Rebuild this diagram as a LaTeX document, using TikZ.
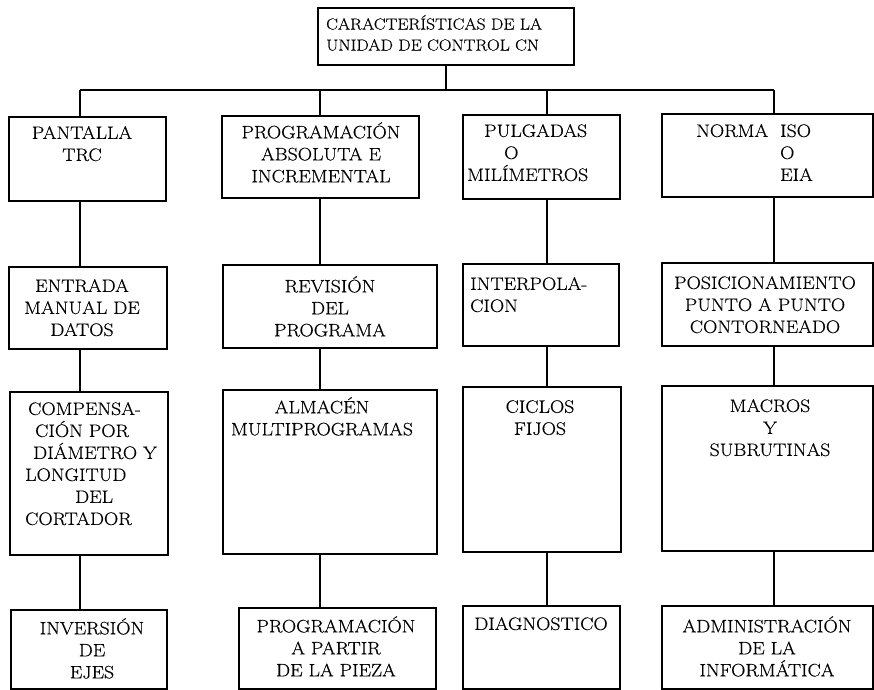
\documentclass[tikz,border=0pt]{standalone}
\usepackage{fontspec}
\setmainfont{Latin Modern Roman}[FakeStretch=1.1,FakeBold=0.4]
\usepackage{tikz}

\begin{document}
\begin{tikzpicture}[x=1pt,y=-1pt,
  caja/.style={draw,line width=1.5pt,anchor=north west,inner sep=0pt},
  texto/.style={anchor=north,align=center,inner sep=0pt,font=\fontsize{18}{22}\selectfont},
  enlace/.style={line width=1.5pt}]
  \useasboundingbox (0,0) rectangle (874,689);
  % ejes de las columnas y barra horizontal
  \coordinate (k1) at (80,0);
  \coordinate (k2) at (320,0);
  \coordinate (k3) at (547,0);
  \coordinate (k4) at (774,0);
  \coordinate (bus) at (0,90);

  % cajas
  \node[caja,minimum width=256pt,minimum height=57pt] (cnc) at (317,7) {};
  \node[caja,minimum width=157pt,minimum height=84pt] (pantalla) at (8,116) {};
  \node[caja,minimum width=197pt,minimum height=82pt] (absoluta) at (221,115) {};
  \node[caja,minimum width=157pt,minimum height=84pt] (pulgadas) at (462,114) {};
  \node[caja,minimum width=211pt,minimum height=83pt] (norma) at (661,113) {};
  \node[caja,minimum width=158pt,minimum height=82pt] (entrada) at (8,266) {};
  \node[caja,minimum width=214pt,minimum height=83pt] (revision) at (222,264) {};
  \node[caja,minimum width=156pt,minimum height=82pt] (interpola) at (462,263) {};
  \node[caja,minimum width=211pt,minimum height=83pt] (posicion) at (661,262) {};
  \node[caja,minimum width=158pt,minimum height=163pt] (compensa) at (9,391) {};
  \node[caja,minimum width=214pt,minimum height=164pt] (almacen) at (222,389) {};
  \node[caja,minimum width=158pt,minimum height=165pt] (ciclos) at (462,386) {};
  \node[caja,minimum width=211pt,minimum height=165pt] (macros) at (661,385) {};
  \node[caja,minimum width=156pt,minimum height=79pt] (inversion) at (10,609) {};
  \node[caja,minimum width=197pt,minimum height=81pt] (partir) at (238,607) {};
  \node[caja,minimum width=157pt,minimum height=83pt] (diagnostico) at (462,605) {};
  \node[caja,minimum width=211pt,minimum height=83pt] (admin) at (661,605) {};

  % textos
  \node[texto,anchor=north west,align=left,font=\fontsize{16}{21}\selectfont] (t-cnc) at (326,15) {CARACTERÍSTICAS DE LA\\UNIDAD DE CONTROL CN};
  \node[texto] (t-pantalla) at (82,126) {PANTALLA\\TRC};
  \node[texto] (t-absoluta) at (321,122) {PROGRAMACIÓN\\ABSOLUTA E\\INCREMENTAL};
  \node[texto,anchor=north west,align=left] (t-pulgadas) at (467,124) {\hspace*{17pt}PULGADAS\\\hspace*{37pt}O\\MILÍMETROS};
  \node[texto,anchor=north west,align=left] (t-norma) at (696,124) {NORMA\ \ ISO\\\phantom{NORMA\ \ }O\\\phantom{NORMA\ \ }EIA};
  \node[texto] (t-entrada) at (82,279) {ENTRADA\\MANUAL DE\\DATOS};
  \node[texto] (t-revision) at (330,276) {REVISIÓN\\DEL\\PROGRAMA};
  \node[texto,anchor=north west,align=left] (t-interpola) at (470,277) {INTERPOLA-\\CION};
  \node[texto] (t-posicion) at (765,276) {POSICIONAMIENTO\\PUNTO A PUNTO\\CONTORNEADO};
  \node[texto,anchor=north west,align=left] (t-compensa) at (25,402) {\hspace*{3pt}COMPENSA-\\\hspace*{10pt}CIÓN POR\\\hspace*{8pt}DIÁMETRO Y\\LONGITUD\\\hspace*{50pt}DEL\\CORTADOR};
  \node[texto] (t-almacen) at (322,397) {ALMACÉN\\MULTIPROGRAMAS};
  \node[texto] (t-ciclos) at (540,400) {CICLOS\\FIJOS};
  \node[texto] (t-macros) at (770,399) {MACROS\\Y\\SUBRUTINAS};
  \node[texto] (t-inversion) at (92,618) {INVERSIÓN\\DE\\EJES};
  \node[texto] (t-partir) at (336,616) {PROGRAMACIÓN\\A PARTIR\\DE LA PIEZA};
  \node[texto] (t-diagnostico) at (541,617) {DIAGNOSTICO};
  \node[texto] (t-admin) at (767,616) {ADMINISTRACIÓN\\DE LA\\INFORMÁTICA};

  % conexiones
  \draw[enlace] (cnc.south) -- (cnc.south |- bus);
  \draw[enlace] (k1 |- bus) -- (k4 |- bus);
  \foreach \n/\k in {pantalla/k1,absoluta/k2,pulgadas/k3,norma/k4}
    \draw[enlace] (\k |- bus) -- (\n.north -| \k);
  \foreach \a/\b/\k in {pantalla/entrada/k1,entrada/compensa/k1,compensa/inversion/k1,
      absoluta/revision/k2,revision/almacen/k2,almacen/partir/k2,
      pulgadas/interpola/k3,interpola/ciclos/k3,ciclos/diagnostico/k3,
      norma/posicion/k4,posicion/macros/k4,macros/admin/k4}
    \draw[enlace] (\a.south -| \k) -- (\b.north -| \k);
\end{tikzpicture}
\end{document}
